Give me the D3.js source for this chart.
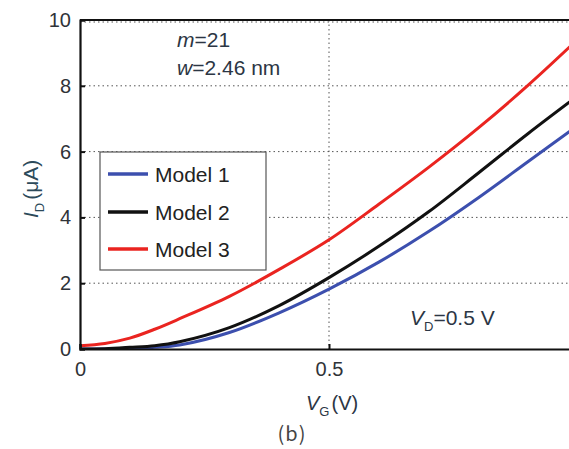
<!DOCTYPE html>
<html>
<head>
<meta charset="utf-8">
<script src="https://cdn.jsdelivr.net/npm/d3@7"></script>
<style>
  body { margin: 0; background: #fff; }
  svg { display: block; font-family: Arial, "Liberation Sans", sans-serif; }
</style>
</head>
<body>
<div id="chart"></div>
<script>
// gate voltage samples (V)
var vg = [0, 0.05, 0.1, 0.15, 0.2, 0.3, 0.4, 0.5, 0.6, 0.7, 0.8, 0.9, 1.0]
// drain current (uA)
var model1 = [0, 0, 0.02, 0.05, 0.12, 0.5, 1.1, 1.82, 2.64, 3.57, 4.6, 5.7, 6.8]
var model2 = [0, 0.01, 0.05, 0.1, 0.22, 0.65, 1.32, 2.17, 3.12, 4.17, 5.35, 6.55, 7.7]
var model3 = [0.1, 0.17, 0.33, 0.6, 0.92, 1.6, 2.42, 3.32, 4.4, 5.52, 6.72, 8.02, 9.42]
var seriesNames = ["Model 1", "Model 2", "Model 3"]
var seriesColors = ["#3c4fae", "#111111", "#ea2420"]
var yTicks = [0, 2, 4, 6, 8, 10]
var xTicks = [0, 0.5]

var width = 569, height = 449
var mLeft = 80, mTop = 20, plotW = 498, plotH = 329

var svg = d3.select("#chart")
  .append("svg")
  .attr("width", width)
  .attr("height", height)

var x = d3.scaleLinear().domain([0, 1]).range([mLeft, mLeft + plotW])
var y = d3.scaleLinear().domain([0, 10]).range([mTop + plotH, mTop])

// dotted grid
svg.selectAll(".hgrid")
  .data(yTicks.filter(d => d > 0))
  .enter().append("line")
  .attr("x1", mLeft).attr("x2", mLeft + plotW)
  .attr("y1", d => y(d) + (d == 10 ? 2 : 0)).attr("y2", d => y(d) + (d == 10 ? 2 : 0))
  .attr("stroke", "#555")
  .attr("stroke-width", 1)
  .attr("stroke-dasharray", "1.5,3")

svg.append("line")
  .attr("x1", x(0.5)).attr("x2", x(0.5))
  .attr("y1", mTop).attr("y2", mTop + plotH)
  .attr("stroke", "#555")
  .attr("stroke-width", 1)
  .attr("stroke-dasharray", "1.5,3")

// curves
var allSeries = [model1, model2, model3]
var line = d3.line()
  .x((d, i) => x(vg[i]))
  .y(d => y(d))
  .curve(d3.curveCatmullRom.alpha(0.5))

svg.append("defs").append("clipPath").attr("id", "clip")
  .append("rect").attr("x", mLeft).attr("y", mTop).attr("width", plotW).attr("height", plotH)

svg.append("g").attr("clip-path", "url(#clip)")
  .selectAll("path")
  .data(allSeries)
  .enter().append("path")
  .attr("d", line)
  .attr("fill", "none")
  .attr("stroke", (d, i) => seriesColors[i])
  .attr("stroke-width", 3)

// axes
var yAxis = d3.axisLeft(y).tickValues(yTicks).tickSize(-5).tickPadding(9).tickFormat(d3.format("d"))
var xAxis = d3.axisBottom(x).tickValues(xTicks).tickSize(-5).tickPadding(9).tickFormat(d => d == 0 ? "0" : d)

svg.append("g")
  .attr("class", "axis y-axis")
  .attr("transform", "translate(" + mLeft + ",0)")
  .call(yAxis)
svg.append("g")
  .attr("class", "axis x-axis")
  .attr("transform", "translate(0," + (mTop + plotH) + ")")
  .call(xAxis)

svg.selectAll(".axis .domain").attr("stroke", "#111").attr("stroke-width", 2.2)
svg.selectAll(".axis .tick line").attr("stroke", "#111").attr("stroke-width", 2)
svg.selectAll(".axis text").attr("font-size", 20).attr("fill", "#2f3338")
  .attr("font-family", "Arial, 'Liberation Sans', sans-serif")
svg.selectAll(".x-axis text").attr("dy", "0.9em")

// top border
svg.append("line")
  .attr("x1", mLeft).attr("x2", mLeft + plotW)
  .attr("y1", mTop).attr("y2", mTop)
  .attr("stroke", "#111").attr("stroke-width", 2.2)

// legend
var lg = svg.append("g")
lg.append("rect")
  .attr("x", 100).attr("y", 152).attr("width", 166).attr("height", 118)
  .attr("fill", "#fff").attr("stroke", "#555").attr("stroke-width", 1.2)
var legendY = [174, 212, 249]
seriesNames.forEach(function(name, i) {
  lg.append("line")
    .attr("x1", 108).attr("x2", 148)
    .attr("y1", legendY[i]).attr("y2", legendY[i])
    .attr("stroke", seriesColors[i]).attr("stroke-width", 3.5)
  lg.append("text")
    .attr("x", 155).attr("y", legendY[i] + 7.5)
    .attr("font-size", 21).attr("fill", "#222")
    .text(name)
})

// annotations
var noteColor = "#2c3644"
svg.append("text").attr("x", 177).attr("y", 47).attr("font-size", 21).attr("fill", noteColor)
  .html('<tspan font-style="italic">m</tspan>=21')
svg.append("text").attr("x", 177).attr("y", 75).attr("font-size", 21).attr("fill", noteColor)
  .html('<tspan font-style="italic">w</tspan>=2.46 nm')
svg.append("text").attr("x", 410).attr("y", 325).attr("font-size", 21).attr("fill", noteColor)
  .html('<tspan font-style="italic">V</tspan><tspan font-size="13" dy="6">D</tspan><tspan dy="-6">=0.5 V</tspan>')

// axis titles
svg.append("text")
  .attr("x", 306).attr("y", 410).attr("font-size", 20).attr("fill", noteColor)
  .html('<tspan font-style="italic">V</tspan><tspan font-size="13" dy="6">G</tspan><tspan dy="-6" dx="2">(V)</tspan>')

svg.append("text")
  .attr("transform", "translate(38,218) rotate(-90)")
  .attr("font-size", 21).attr("fill", "#2c4a5a")
  .html('<tspan font-style="italic">I</tspan><tspan font-size="13" dy="6">D</tspan><tspan dy="-6" dx="3">(μA)</tspan>')

svg.append("text")
  .attr("x", 292).attr("y", 441).attr("text-anchor", "middle")
  .attr("font-size", 20).attr("fill", "#444")
  .attr("letter-spacing", 1)
  .attr("font-family", "'Noto Sans CJK SC', sans-serif")
  .text("(b)")
</script>
</body>
</html>
